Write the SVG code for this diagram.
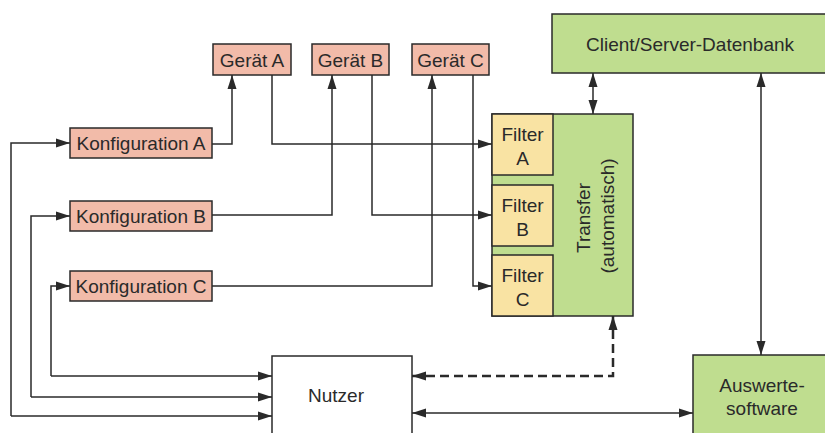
<svg xmlns="http://www.w3.org/2000/svg" width="825" height="433" viewBox="0 0 825 433">
<defs>
<style>
.box{stroke:#2a2a2a;stroke-width:1.5}
.red{fill:#f2bba9}
.yel{fill:#f9e3a3}
.grn{fill:#bfdd8f}
.wht{fill:#ffffff}
text{font-family:"Liberation Sans",Arial,sans-serif;font-size:19px;fill:#2a2a2a;text-anchor:middle}
.ln{fill:none;stroke:#2a2a2a;stroke-width:1.5}
.dash{stroke-width:2.5;stroke-dasharray:9,5}
</style>
<marker id="ah" viewBox="0 0 14 10" refX="14" refY="5" markerWidth="14" markerHeight="10" markerUnits="userSpaceOnUse" orient="auto-start-reverse">
<path d="M0,0.5 L14,5 L0,9.5 Z" fill="#2a2a2a"/>
</marker>
</defs>
<rect width="825" height="433" fill="#ffffff"/>
<g id="konfA"><rect class="box red" x="70" y="128" width="142" height="30"/><text x="141" y="150">Konfiguration A</text></g>
<g id="konfB"><rect class="box red" x="70" y="201" width="142" height="30"/><text x="141" y="223">Konfiguration B</text></g>
<g id="konfC"><rect class="box red" x="70" y="271" width="142" height="30"/><text x="141" y="293">Konfiguration C</text></g>
<g id="geraetA"><rect class="box red" x="213" y="44" width="78" height="31"/><text x="252" y="66.5">Gerät A</text></g>
<g id="geraetB"><rect class="box red" x="312" y="44" width="77" height="31"/><text x="350.5" y="66.5">Gerät B</text></g>
<g id="geraetC"><rect class="box red" x="412" y="44" width="77" height="31"/><text x="450.5" y="66.5">Gerät C</text></g>
<g id="transfer"><rect class="box grn" x="492" y="114" width="141" height="202"/>
<text transform="translate(590,218) rotate(-90)">Transfer</text>
<text transform="translate(614,216) rotate(-90)">(automatisch)</text></g>
<g id="filterA"><rect class="box yel" x="492" y="114" width="61" height="61"/><text x="522.5" y="141">Filter</text><text x="522.5" y="165">A</text></g>
<g id="filterB"><rect class="box yel" x="492" y="185" width="61" height="61"/><text x="522.5" y="212">Filter</text><text x="522.5" y="236">B</text></g>
<g id="filterC"><rect class="box yel" x="492" y="255" width="61" height="61"/><text x="522.5" y="282">Filter</text><text x="522.5" y="306">C</text></g>
<g id="datenbank"><rect class="box grn" x="552" y="14" width="290" height="59"/><text x="690" y="51">Client/Server-Datenbank</text></g>
<g id="nutzer"><rect class="box wht" x="272" y="356" width="140" height="90"/><text x="336" y="402">Nutzer</text></g>
<g id="auswerte"><rect class="box grn" x="693" y="355" width="150" height="90"/><text x="762" y="392">Auswerte-</text><text x="762" y="415">software</text></g>
<g id="connectors">
<path class="ln" d="M11,416 V143 H70" marker-end="url(#ah)"/>
<path class="ln" d="M31,397 V216 H70" marker-end="url(#ah)"/>
<path class="ln" d="M51,376 V286 H70" marker-end="url(#ah)"/>
<path class="ln" d="M11,416 H272" marker-end="url(#ah)"/>
<path class="ln" d="M31,397 H272" marker-end="url(#ah)"/>
<path class="ln" d="M51,376 H272" marker-end="url(#ah)"/>
<path class="ln" d="M212,144 H232 V75" marker-end="url(#ah)"/>
<path class="ln" d="M212,215 H332 V75" marker-end="url(#ah)"/>
<path class="ln" d="M212,286 H432 V75" marker-end="url(#ah)"/>
<path class="ln" d="M272,75 V144 H492" marker-end="url(#ah)"/>
<path class="ln" d="M372,75 V215 H492" marker-end="url(#ah)"/>
<path class="ln" d="M473,75 V286 H492" marker-end="url(#ah)"/>
<path class="ln" d="M593,73 V114" marker-start="url(#ah)" marker-end="url(#ah)"/>
<path class="ln" d="M761,73 V355" marker-start="url(#ah)" marker-end="url(#ah)"/>
<path class="ln" d="M412,413 H693" marker-start="url(#ah)" marker-end="url(#ah)"/>
<path class="ln dash" d="M412,376 H613 V316" marker-start="url(#ah)" marker-end="url(#ah)"/>
</g>
</svg>
